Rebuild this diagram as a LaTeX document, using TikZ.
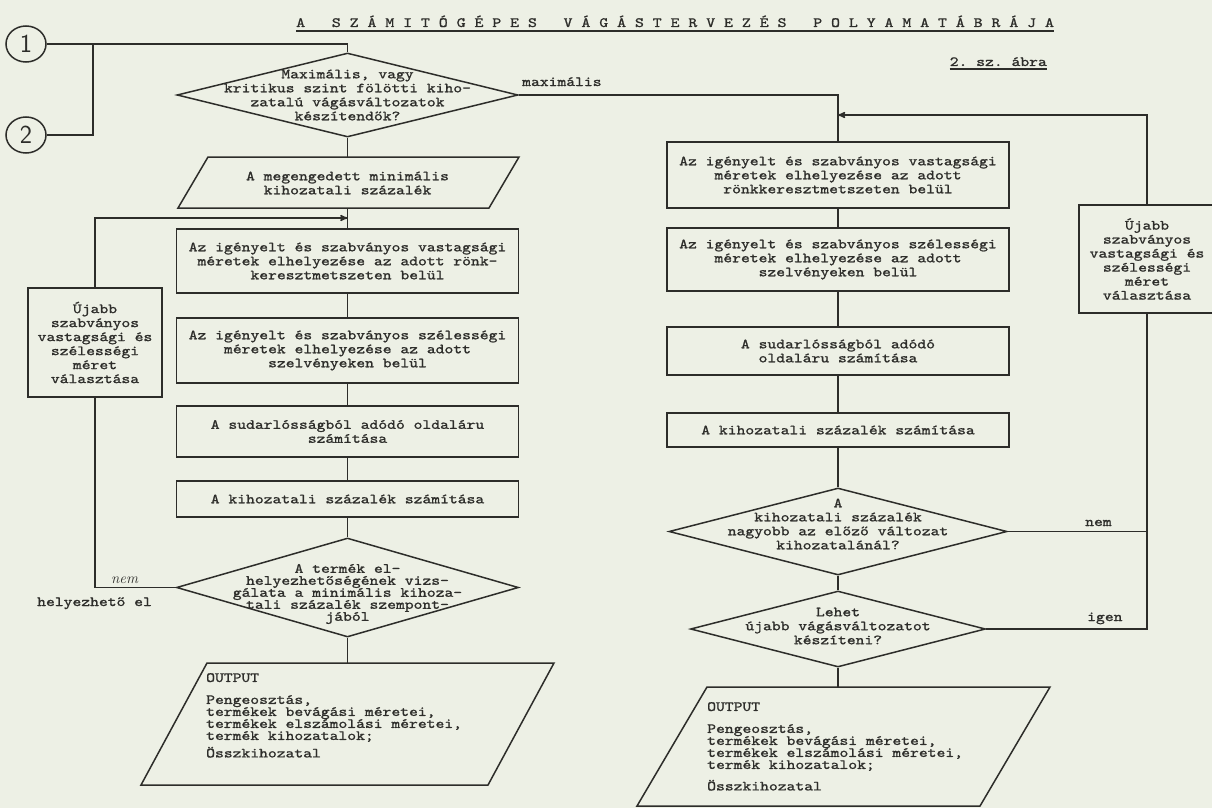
\documentclass[tikz,border=0pt]{standalone}
\usepackage{fontspec}
\usepackage{tikz}
\usetikzlibrary{arrows}
\usetikzlibrary{shapes.geometric}
\newfontfamily\typefont{lmmono10-regular}[Extension=.otf,FakeStretch=1.2,FakeBold=1.2]
\newcommand{\tw}{\typefont\fontsize{14}{14}\selectfont}
\newcommand{\tws}{\typefont\fontsize{14}{12}\selectfont}
\definecolor{paper}{RGB}{237,240,229}
\definecolor{ink}{RGB}{45,45,42}
\tikzset{>=stealth'}
\tikzset{
	flow/.style={draw=ink, line width=1.5pt},
	box/.style={rectangle, draw=ink, line width=1.5pt, minimum width=342pt, align=center, font=\tw, text=ink, inner sep=0pt},
	dia/.style={diamond, draw=ink, line width=1.5pt, inner sep=0pt},
	txt/.style={align=center, font=\tw, text=ink, inner sep=0pt},
	lbl/.style={font=\tw, text=ink, inner sep=0pt}
}
\newcommand{\iobox}[6]{% {name}{x left}{x right}{y top}{y bottom}{skew}
	\draw[flow] (#2,#4) -- (#3,#4) -- ({#3-#6},#5) -- ({#2-#6},#5) -- cycle; % outline
	\coordinate (#1-n) at ({(#2+#3)/2},#4); % top edge
	\coordinate (#1-s) at ({(#2+#3)/2-#6},#5) % bottom edge
}

\begin{document}
\begin{tikzpicture}[x=1pt,y=-1pt]
	\useasboundingbox (0,0) rectangle (1212,808);
	\fill[paper] (0,0) rectangle (1212,808);

	% title
	\node[lbl, anchor=base west, font=\typefont\fontsize{14.15}{14}\selectfont] (title) at (296,27) {A~~~S~Z~Á~M~I~T~Ó~G~É~P~E~S~~~V~Á~G~Á~S~T~E~R~V~E~Z~É~S~~~P~O~L~Y~A~M~A~T~Á~B~R~Á~J~A};
	\draw[ink, line width=1.2pt] ([yshift=-4pt]title.base west) -- ([yshift=-4pt]title.base east);
	\node[lbl, anchor=base east] (abra) at (1047,66) {2.~sz.~ábra};
	\draw[ink, line width=1.2pt] ([yshift=-3pt]abra.base west) -- ([yshift=-3pt]abra.base east);

	% connectors 1 and 2
	\node[ellipse, draw=ink, line width=1.5pt, minimum width=40pt, minimum height=36pt, inner sep=0pt, text=ink, font=\sffamily\fontsize{26}{26}\selectfont] (c1) at (26,44) {1};
	\node[ellipse, draw=ink, line width=1.5pt, minimum width=40pt, minimum height=36pt, inner sep=0pt, text=ink, font=\sffamily\fontsize{26}{26}\selectfont] (c2) at (26,135) {2};
	\coordinate (j1) at (93,44);

	% left column
	\node[dia, minimum width=341pt, minimum height=84pt] (d1) at (347.5,95) {};
	\node[txt] (d1t) at (347.5,95) {Maximális, vagy\\kritikus szint fölötti kiho-\\zatalú vágásváltozatok\\készítendők?};
	\iobox{p1}{208}{519}{157}{208}{30};
	\node[txt] (p1t) at (347.5,183) {A megengedett minimális\\kihozatali százalék};
	\coordinate (j2) at (347.5,218);
	\node[box, minimum height=64pt] (b1) at (347.5,261) {Az igényelt és szabványos vastagsági\\méretek elhelyezése az adott rönk-\\keresztmetszeten belül};
	\node[box, minimum height=65pt] (b2) at (347.5,350.5) {Az igényelt és szabványos szélességi\\méretek elhelyezése az adott\\szelvényeken belül};
	\node[box, minimum height=51pt] (b3) at (347.5,431.5) {A sudarlósságból adódó oldaláru\\számítása};
	\node[box, minimum height=36pt] (b4) at (347.5,499) {A kihozatali százalék számítása};
	\node[dia, minimum width=342pt, minimum height=99pt] (d2) at (347.5,587.5) {};
	\node[txt, font=\tws] (d2t) at (347.5,594) {A termék el-\\helyezhetőségének vizs-\\gálata a minimális kihoza-\\tali százalék szempont-\\jából};
	\iobox{o1}{207}{554}{663}{785}{66};
	\node[lbl, font=\tws, align=left, anchor=north west] (o1t) at (206,673) {OUTPUT\\[10pt]Pengeosztás,\\termékek bevágási méretei,\\termékek elszámolási méretei,\\termék kihozatalok;\\[4pt]Összkihozatal};
	\node[box, minimum width=134pt, minimum height=109pt] (u1) at (95,342.5) {Újabb\\szabványos\\vastagsági és\\szélességi\\méret\\választása};

	% right column
	\coordinate (j3) at (838,115);
	\node[box, minimum height=66pt] (r1) at (838,175) {Az igényelt és szabványos vastagsági\\méretek elhelyezése az adott\\rönkkeresztmetszeten belül};
	\node[box, minimum height=63pt] (r2) at (838,259.5) {Az igényelt és szabványos szélességi\\méretek elhelyezése az adott\\szelvényeken belül};
	\node[box, minimum height=48pt] (r3) at (838,351) {A sudarlósságból adódó\\oldaláru számítása};
	\node[box, minimum height=34pt] (r4) at (838,430) {A kihozatali százalék számítása};
	\node[dia, minimum width=338pt, minimum height=87pt] (e1) at (838,531.5) {};
	\node[txt] (e1t) at (838,524) {A\\kihozatali százalék\\nagyobb az előző változat\\kihozatalánál?};
	\node[dia, minimum width=295pt, minimum height=76pt] (e2) at (838,629) {};
	\node[txt] (e2t) at (838,626) {Lehet\\újabb vágásváltozatot\\készíteni?};
	\iobox{o2}{707}{1050}{687}{806}{70};
	\node[lbl, font=\tws, align=left, anchor=north west] (o2t) at (707,702) {OUTPUT\\[10pt]Pengeosztás,\\termékek bevágási méretei,\\termékek elszámolási méretei,\\termék kihozatalok;\\[8pt]Összkihozatal};
	\node[box, minimum width=136pt, minimum height=108pt] (u2) at (1147,259) {Újabb\\szabványos\\vastagsági és\\szélességi\\méret\\választása};

	% labels
	\node[lbl, anchor=base west] (lmax) at (522,86) {maximális};
	\node[lbl, anchor=base west, font=\normalfont\itshape\fontsize{15}{15}\selectfont] (lnem) at (111,583) {nem};
	\node[lbl, anchor=base west] (lhely) at (37,606) {helyezhető el};
	\node[lbl, anchor=base west] (rnem) at (1085,526) {nem};
	\node[lbl, anchor=base west] (rigen) at (1087,621) {igen};

	% connectors
	\draw[flow] (c1.east) -| (d1.north);
	\draw[flow] (c2.east) -| (j1);
	\draw[flow] (d1.south) -- (d1.south |- p1-n);
	\draw[flow] (b1.north |- p1-s) -- (b1.north);
	\draw[flow,->] (u1.north) |- (j2);
	\draw[flow] (b1.south) -- (b2.north);
	\draw[flow] (b2.south) -- (b3.north);
	\draw[flow] (b3.south) -- (b4.north);
	\draw[flow] (b4.south) -- (d2.north);
	\draw[flow] (u1.south) |- (d2.west);
	\draw[flow] (d2.south) -- (d2.south |- o1-n);
	\draw[flow] (d1.east) -| (r1.north);
	\draw[flow,->] (u2.north) |- (j3);
	\draw[flow] (r1.south) -- (r2.north);
	\draw[flow] (r2.south) -- (r3.north);
	\draw[flow] (r3.south) -- (r4.north);
	\draw[flow] (r4.south) -- (e1.north);
	\draw[flow] (e1.south) -- (e2.north);
	\draw[flow] (e2.south) -- (e2.south |- o2-n);
	\draw[flow] (e1.east) -| (u2.south);
	\draw[flow] (e2.east) -| (u2.south);
\end{tikzpicture}
\end{document}
